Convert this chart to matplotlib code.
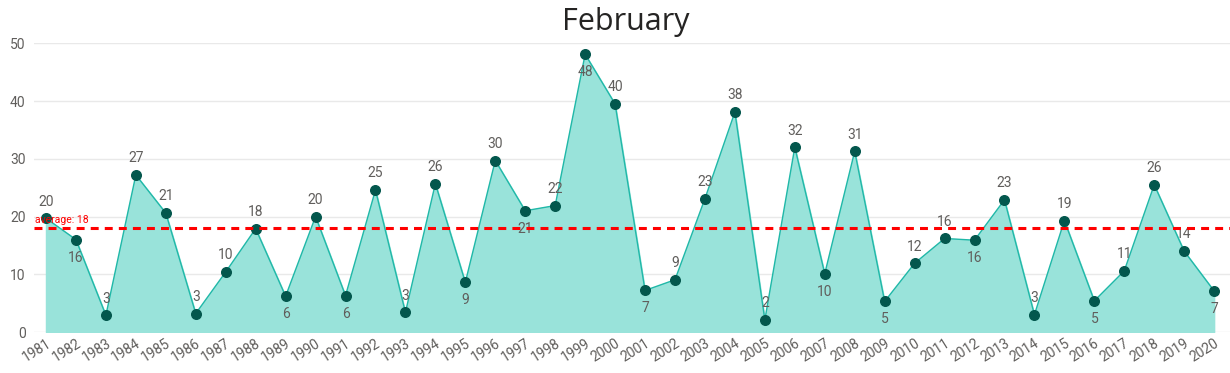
import matplotlib
matplotlib.use('Agg')
import matplotlib.pyplot as plt
import numpy as np

years = list(range(1981, 2021))
values = [19.7, 16.0, 2.9, 27.2, 20.6, 3.2, 10.4, 17.9, 6.2, 20.0,
          6.3, 24.6, 3.4, 25.7, 8.6, 29.7, 21.0, 21.9, 48.1, 39.5,
          7.2, 9.05, 23.1, 38.1, 2.1, 32.0, 10.1, 31.3, 5.3, 11.9,
          16.2, 15.9, 22.9, 3.0, 19.3, 5.4, 10.6, 25.5, 14.0, 7.1]
average = 18
yticks = [0, 10, 20, 30, 40, 50]

# labels that sit under the point instead of above it
below = {1982, 1989, 1991, 1995, 1997, 1999, 2001, 2007, 2009, 2012, 2016, 2020}

plt.rcParams['font.family'] = ['Roboto', 'DejaVu Sans']

fig = plt.figure(figsize=(12.3, 3.73), dpi=100)
ax = fig.add_axes([34/1230, 41/373, 1 - 34/1230, 288.7/373])

ax.fill_between(years, values, 0, color='#99e3da', zorder=2)
ax.plot(years, values, color='#20b8a8', lw=1, zorder=3)
ax.scatter(years, values, s=48, color='#03574d', zorder=4, clip_on=False)

for yr, v in zip(years, values):
    lab = str(int(round(v)))
    if yr in below:
        ax.annotate(lab, (yr, v), xytext=(0, -13), textcoords='offset points',
                    ha='center', va='center', fontsize=10, color='#605e5c', zorder=5)
    else:
        ax.annotate(lab, (yr, v), xytext=(0, 12), textcoords='offset points',
                    ha='center', va='center', fontsize=10, color='#605e5c', zorder=5)

ax.axhline(average, color='#ff0000', lw=2.2, ls=(0, (2.6, 2.0)), zorder=6)
ax.text(1980.62, average + 0.6, 'average: ' + str(average), color='#ff0000',
        fontsize=7.5, ha='left', va='bottom', zorder=7)

ax.set_xlim(1980.6, 2020.53)
ax.set_ylim(0, 50)
ax.set_yticks(yticks)
ax.set_xticks(years)
ax.set_xticklabels([str(y) for y in years], rotation=32, ha='right',
                   rotation_mode='anchor', fontsize=10, color='#605e5c')
ax.tick_params(axis='y', labelsize=10, labelcolor='#605e5c', length=0, pad=6)
ax.tick_params(axis='x', length=0, pad=3)
ax.grid(axis='y', color='#e9e9e9', lw=1)
ax.set_axisbelow(True)
for s in ax.spines.values():
    s.set_visible(False)

fig.text(626/1230, 1 - 22/373, 'February', ha='center', va='center',
         fontsize=22, color='#252423', family=['Open Sans', 'DejaVu Sans'])

fig.savefig('out.png', dpi=100)
